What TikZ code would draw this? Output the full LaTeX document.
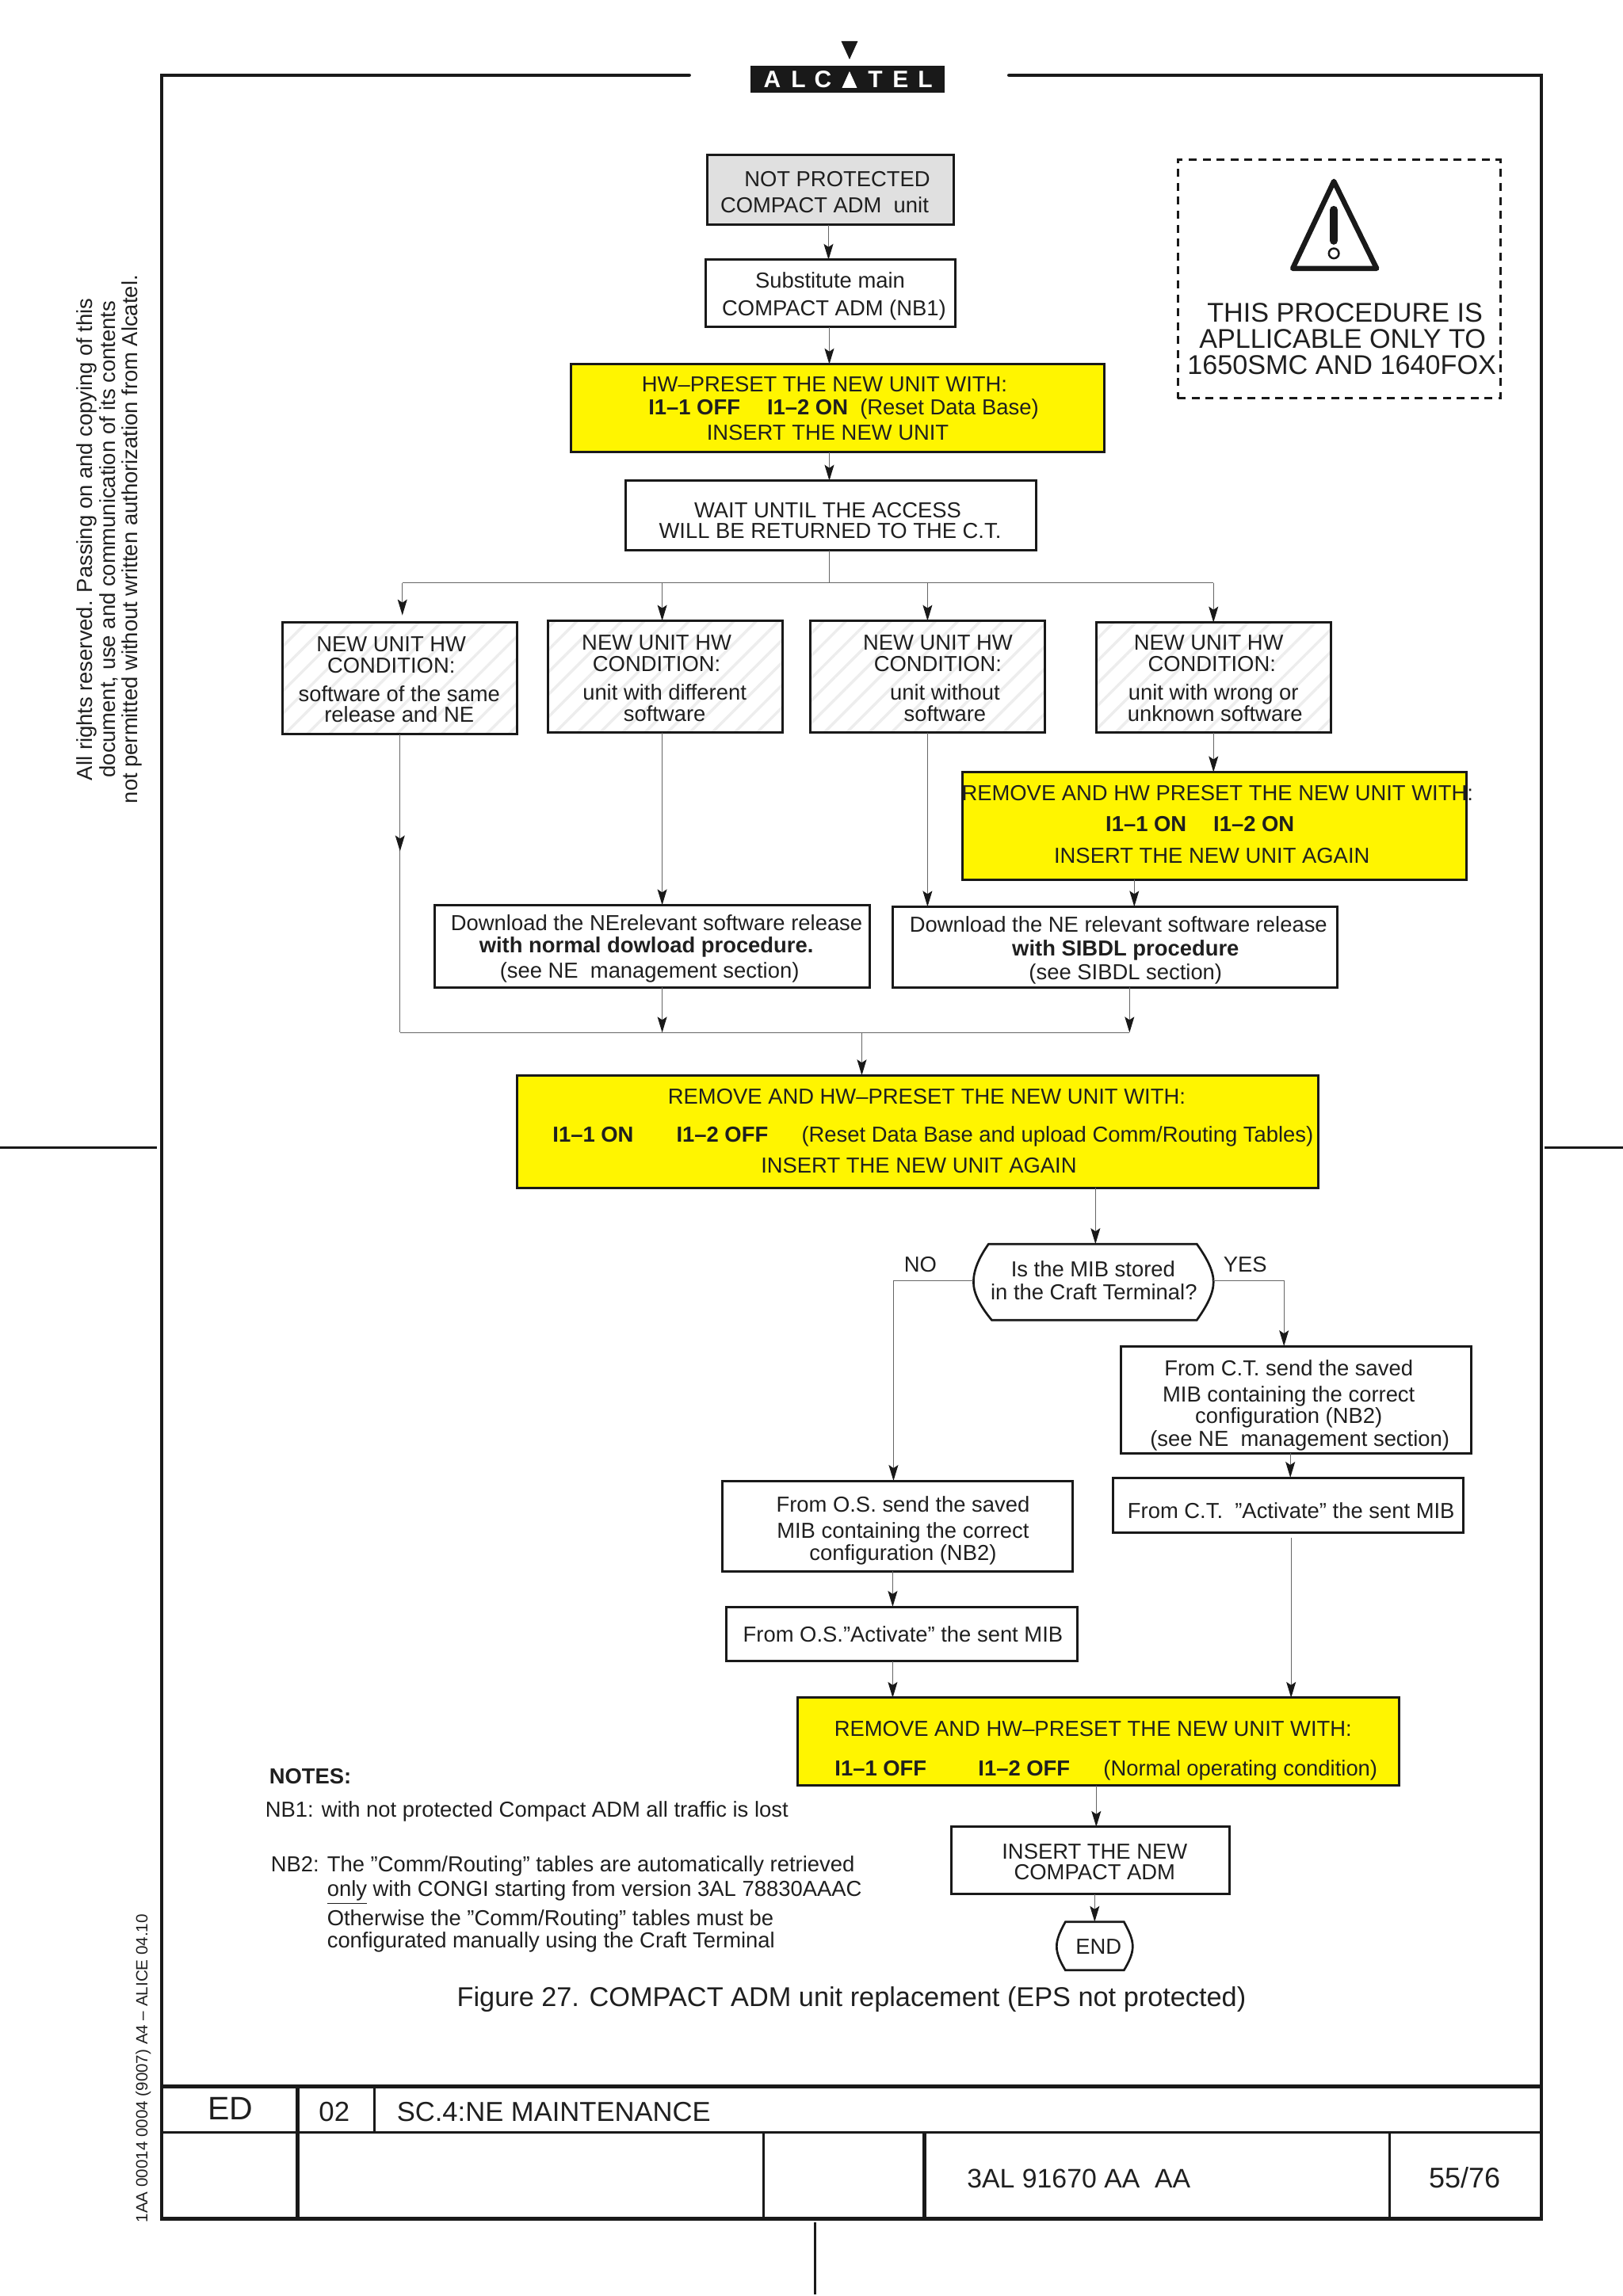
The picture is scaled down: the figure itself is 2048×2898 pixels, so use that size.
\documentclass[tikz,border=0pt]{standalone}
\usepackage{fontspec}
\setmainfont{Liberation Sans}
\usetikzlibrary{arrows.meta,patterns.meta}
\newcommand\bx[7]{%
  \pgfmathsetmacro\bcx{(#3+#5)/2}\pgfmathsetmacro\bcy{(#4+#6)/2}%
  \pgfmathsetmacro\bw{(#5-#3)*0.49975}\pgfmathsetmacro\bh{(#6-#4)*0.49975}%
  \node[#2,minimum width=\bw pt,minimum height=\bh pt] (#1) at (\bcx,\bcy) {#7};}
\newcommand\tl[3]{%
  \pgfmathsetmacro\tdx{#1-\bcx}\pgfmathsetmacro\tdy{(\bcy-#2)*0.5}%
  \smash{\makebox[0pt]{\hspace*{\tdx pt}\raisebox{\dimexpr\tdy pt-.358em\relax}{#3}}}}
\definecolor{hwyellow}{RGB}{255,245,0}
\tikzset{
  x=0.49975pt,y=-0.49975pt,
  every node/.style={inner sep=0pt,outer sep=0pt},
  base/.style={font=\fontsize{13.7}{16}\selectfont},
  plain/.style={base,text=black!88},
  box/.style={base,draw=black!90,line width=1.5pt,text=black!88,rectangle},
  gray box/.style={box,fill=black!12},
  yellow box/.style={box,fill=hwyellow},
  cond box/.style={box,pattern={Lines[angle=45,distance=10pt,line width=1.75pt]},pattern color=black!7},
  frame/.style={draw=black!90,line width=2.4pt,line cap=round},
  rule/.style={draw=black!90,line width=1.4pt},
  con/.style={draw=black!60,line width=.55pt},
  arr/.style={con,-{Stealth[length=10pt,width=6pt,inset=2pt,color=black!90]}},
  term/.style={draw=black!90,line width=1.35pt},
}
\begin{document}
\begin{tikzpicture}
\useasboundingbox (0,0) rectangle (2049.02,2899.45);
% frame
\coordinate (fTL) at (204,95);\coordinate (fTR) at (1946,95);
\coordinate (fBL) at (204,2802);\coordinate (fBR) at (1946,2802);
\draw[frame] (870,95) -- (fTL) -- (fBL) -- (fBR) -- (fTR) -- (1274,95);
\draw[rule] (0,1449) -- (198,1449);
\draw[rule] (1950,1449) -- (2049,1449);
\draw[rule] (1029,2806) -- (1029,2897);
% title block
\draw[frame,line cap=butt] (204,2635) -- (1946,2635);
\draw[rule] (204,2693) -- (1946,2693);
\draw[frame,line cap=butt] (376,2635) -- (376,2802);
\draw[rule] (473,2635) -- (473,2693);
\draw[rule] (964,2693) -- (964,2802);
\draw[frame,line cap=butt] (1167,2693) -- (1167,2802);
\draw[rule] (1754,2693) -- (1754,2802);
\node[plain,font=\fontsize{20.5}{24}\selectfont] (ed) at (291,2663) {ED};
\node[plain,font=\fontsize{17.4}{20}\selectfont] (ednum) at (422,2667) {02};
\node[plain,font=\fontsize{17.3}{20}\selectfont,anchor=west] (sect) at (501,2667) {SC.4:NE MAINTENANCE};
\node[plain,font=\fontsize{16.9}{20}\selectfont,anchor=west] (docno) at (1221,2751) {3AL 91670 AA\ \ AA};
\node[plain,font=\fontsize{18}{20}\selectfont] (page) at (1849,2750) {55/76};
% logo
\node[fill=black!90,minimum width=122.5pt,minimum height=17pt] (logobar) at (1070.5,100) {};
\fill[black!90] (1062,52) -- (1083,52) -- (1072.5,75) -- cycle;
\fill[white] (1063,111) -- (1082,111) -- (1072.5,90) -- cycle;
\foreach \lx/\lc in {975/A,1008/L,1039/C,1105/T,1137/E,1168/L}
  \node[text=white,font=\fontsize{15}{16}\selectfont\bfseries] at (\lx,100.5) {\lc};
% side texts
\node[plain,rotate=90,font=\fontsize{13.7}{16}\selectfont] (r1) at (109,681) {All rights reserved. Passing on and copying of this};
\node[plain,rotate=90,font=\fontsize{13.7}{16}\selectfont] (r2) at (137,681) {document, use and communication of its contents};
\node[plain,rotate=90,font=\fontsize{13.7}{16}\selectfont] (r3) at (166,681) {not permitted without written authorization from Alcatel.};
\node[plain,rotate=90,font=\fontsize{10.3}{11}\selectfont] (r4) at (181,2612) {1AA 00014 0004 (9007) A4 – ALICE 04.10};
% warning
\node[draw=black!90,line width=1.5pt,dash pattern=on 5pt off 3.8pt,minimum width=203.5pt,minimum height=150.5pt] (warn) at (1690.5,352.5) {};
\draw[line width=3.25pt,line join=round,draw=black!90] (1684,229) -- (1632,339) -- (1738,339) -- cycle;
\draw[line width=5pt,line cap=round,draw=black!90] (1684,265) -- (1684,304);
\draw[line width=1.25pt,draw=black!90] (1684,320) circle (6.3);
\node[plain,font=\fontsize{17.1}{20}\selectfont] (w1) at (1698,395) {THIS PROCEDURE IS};
\node[plain,font=\fontsize{17.1}{20}\selectfont] (w2) at (1695,428) {APLLICABLE ONLY TO};
\node[plain,font=\fontsize{17.1}{20}\selectfont] (w3) at (1694,461) {1650SMC AND 1640FOX};
% boxes
\bx{b1}{gray box}{893}{196}{1204}{284}{\tl{1057}{226}{NOT PROTECTED}\tl{1041}{259}{COMPACT ADM\ \ unit}}
\bx{b2}{box}{891}{328}{1206}{413}{\tl{1048}{354}{Substitute main}\tl{1053}{389}{COMPACT ADM (NB1)}}
\bx{y1}{yellow box}{721}{460}{1394}{571}{\tl{1041}{485}{HW–PRESET THE NEW UNIT WITH:}\tl{1065}{514}{\textbf{I1–1 OFF}\hspace{17pt}\textbf{I1–2 ON}\ \ (Reset Data Base)}\tl{1045}{546}{INSERT THE NEW UNIT}}
\bx{wait}{box}{790}{607}{1308}{695}{\tl{1045}{644}{WAIT UNTIL THE ACCESS}\tl{1048}{670}{WILL BE RETURNED TO THE C.T.}}
\bx{ca}{cond box}{357}{786}{653}{927}{\tl{494}{813}{NEW UNIT HW}\tl{494}{840}{CONDITION:}\tl{504}{876}{software of the same}\tl{504}{902}{release and NE}}
\bx{cb}{cond box}{692}{784}{988}{925}{\tl{829}{811}{NEW UNIT HW}\tl{829}{838}{CONDITION:}\tl{839}{874}{unit with different}\tl{839}{901}{software}}
\bx{cc}{cond box}{1023}{784}{1319}{925}{\tl{1184}{811}{NEW UNIT HW}\tl{1184}{838}{CONDITION:}\tl{1193}{874}{unit without}\tl{1193}{901}{software}}
\bx{cd}{cond box}{1384}{786}{1680}{925}{\tl{1526}{811}{NEW UNIT HW}\tl{1530}{838}{CONDITION:}\tl{1532}{874}{unit with wrong or}\tl{1534}{901}{unknown software}}
\bx{y2}{yellow box}{1215}{975}{1851}{1111}{\tl{1537}{1001}{REMOVE AND HW PRESET THE NEW UNIT WITH:}\tl{1515}{1040}{\textbf{I1–1 ON}\hspace{17pt}\textbf{I1–2 ON}}\tl{1530}{1080}{INSERT THE NEW UNIT AGAIN}}
\bx{d1}{box}{549}{1143}{1098}{1247}{\tl{829}{1165}{Download the NErelevant software release}\tl{816}{1193}{\textbf{with normal dowload procedure.}}\tl{820}{1225}{(see NE\ \ management section)}}
\bx{d2}{box}{1127}{1145}{1688}{1247}{\tl{1412}{1167}{Download the NE relevant software release}\tl{1421}{1197}{\textbf{with SIBDL procedure}}\tl{1421}{1227}{(see SIBDL section)}}
\bx{y3}{yellow box}{653}{1358}{1664}{1500}{\tl{1170}{1384}{REMOVE AND HW–PRESET THE NEW UNIT WITH:}\tl{749}{1432}{\textbf{I1–1 ON}}\tl{912}{1432}{\textbf{I1–2 OFF}}\tl{1335}{1432}{(Reset Data Base and upload Comm/Routing Tables)}\tl{1160}{1471}{INSERT THE NEW UNIT AGAIN}}
\bx{mib}{plain}{1229}{1571}{1532}{1667}{\tl{1380}{1602}{Is the MIB stored}\tl{1381}{1631}{in the Craft Terminal?}}
\draw[term] (1248,1571) -- (1511,1571) .. controls (1523,1588) and (1532,1604) .. (1532,1619) .. controls (1532,1634) and (1523,1650) .. (1511,1667) -- (1252,1667) .. controls (1238,1650) and (1229,1634) .. (1229,1619) .. controls (1229,1604) and (1236,1588) .. cycle;
\bx{cts}{box}{1415}{1700}{1857}{1835}{\tl{1627}{1728}{From C.T. send the saved}\tl{1627}{1761}{MIB containing the correct}\tl{1627}{1788}{configuration (NB2)}\tl{1641}{1817}{(see NE\ \ management section)}}
\bx{cta}{box}{1405}{1866}{1847}{1935}{\tl{1630}{1908}{From C.T.\ \ ”Activate” the sent MIB}}
\bx{oss}{box}{912}{1870}{1354}{1984}{\tl{1140}{1900}{From O.S. send the saved}\tl{1140}{1933}{MIB containing the correct}\tl{1140}{1961}{configuration (NB2)}}
\bx{osa}{box}{917}{2029}{1360}{2098}{\tl{1140}{2064}{From O.S.”Activate” the sent MIB}}
\bx{y4}{yellow box}{1007}{2144}{1766}{2255}{\tl{1380}{2183}{REMOVE AND HW–PRESET THE NEW UNIT WITH:}\tl{1112}{2233}{\textbf{I1–1 OFF}}\tl{1293}{2233}{\textbf{I1–2 OFF}}\tl{1566}{2233}{(Normal operating condition)}}
\bx{ins}{box}{1201}{2307}{1552}{2392}{\tl{1382}{2338}{INSERT THE NEW}\tl{1382}{2364}{COMPACT ADM}}
\bx{endn}{plain}{1334}{2427}{1430}{2488}{\tl{1387}{2458}{END}}
\draw[term] (1345,2427) -- (1419,2427) .. controls (1425,2438) and (1430,2448) .. (1430,2458) .. controls (1430,2468) and (1425,2478) .. (1419,2488) -- (1345,2488) .. controls (1339,2478) and (1334,2468) .. (1334,2458) .. controls (1334,2448) and (1339,2438) .. cycle;
% labels
\node[plain] (no) at (1162,1597) {NO};
\node[plain] (yes) at (1572,1597) {YES};
\node[plain,anchor=west,font=\fontsize{13.7}{16}\selectfont\bfseries] (notes) at (340,2243) {NOTES:};
\node[plain,anchor=west] (nb1) at (335,2288) {NB1: with not protected Compact ADM\ all traffic is lost};
\node[plain,anchor=west] (nb2) at (342,2357) {NB2: The ”Comm/Routing” tables are automatically retrieved};
\node[plain,anchor=west] (nb2b) at (413,2390) {\underline{only} with CONGI starting from version 3AL 78830AAAC};
\node[plain,anchor=west] (nb2c) at (413,2425) {Otherwise the ”Comm/Routing” tables must be};
\node[plain,anchor=west] (nb2d) at (413,2453) {configurated manually using the Craft Terminal};
\node[plain,font=\fontsize{17.15}{20}\selectfont] (cap) at (1075,2525) {Figure 27. COMPACT ADM unit replacement (EPS not protected)};
% connector junctions
\coordinate (brL) at (508,736);\coordinate (brB) at (836,736);\coordinate (brC) at (1171,736);\coordinate (brD) at (1532,736);\coordinate (brW) at (1047,736);
\coordinate (aTip) at (508,777);
\coordinate (mgL) at (505,1304);\coordinate (mgR) at (1426,1304);\coordinate (mgD) at (836,1304);\coordinate (mgO) at (1088,1304);
\coordinate (noK) at (1128,1617);\coordinate (yesK) at (1621,1617);
% connectors
\draw[arr] (b1.south -| 1046,0) -- (b2.north -| 1046,0);
\draw[arr] (b2.south -| 1047,0) -- (y1.north -| 1047,0);
\draw[arr] (y1.south -| 1047,0) -- (wait.north -| 1047,0);
\draw[con] (wait.south -| brW) -- (brW);
\draw[con] (brL) -- (brD);
\draw[arr] (brL) -- (aTip);
\draw[arr] (brB) -- (cb.north -| brB);
\draw[arr] (brC) -- (cc.north -| brC);
\draw[arr] (brD) -- (cd.north -| brD);
\draw[con] (ca.south -| mgL) -- (mgL);
\draw[arr] (ca.south -| mgL) -- (505,1075);
\draw[arr] (cb.south -| brB) -- (d1.north -| brB);
\draw[arr] (cc.south -| brC) -- (d2.north -| brC);
\draw[arr] (cd.south -| brD) -- (y2.north -| brD);
\draw[arr] (y2.south -| 1432,0) -- (d2.north -| 1432,0);
\draw[arr] (d1.south -| mgD) -- (mgD);
\draw[arr] (d2.south -| mgR) -- (mgR);
\draw[con] (mgL) -- (mgR);
\draw[arr] (mgO) -- (y3.north -| mgO);
\draw[arr] (y3.south -| 1383,0) -- (mib.north -| 1383,0);
\draw[con] (mib.west |- noK) -- (noK);
\draw[arr] (noK) -- (oss.north -| noK);
\draw[con] (mib.east |- yesK) -- (yesK);
\draw[arr] (yesK) -- (cts.north -| yesK);
\draw[arr] (cts.south -| 1629,0) -- (cta.north -| 1629,0);
\draw[arr] (1630,1942) -- (y4.north -| 1630,0);
\draw[arr] (oss.south -| 1127,0) -- (osa.north -| 1127,0);
\draw[arr] (osa.south -| 1127,0) -- (y4.north -| 1127,0);
\draw[arr] (y4.south -| 1384,0) -- (ins.north -| 1384,0);
\draw[arr] (ins.south -| 1382,0) -- (endn.north -| 1382,0);
\end{tikzpicture}
\end{document}
